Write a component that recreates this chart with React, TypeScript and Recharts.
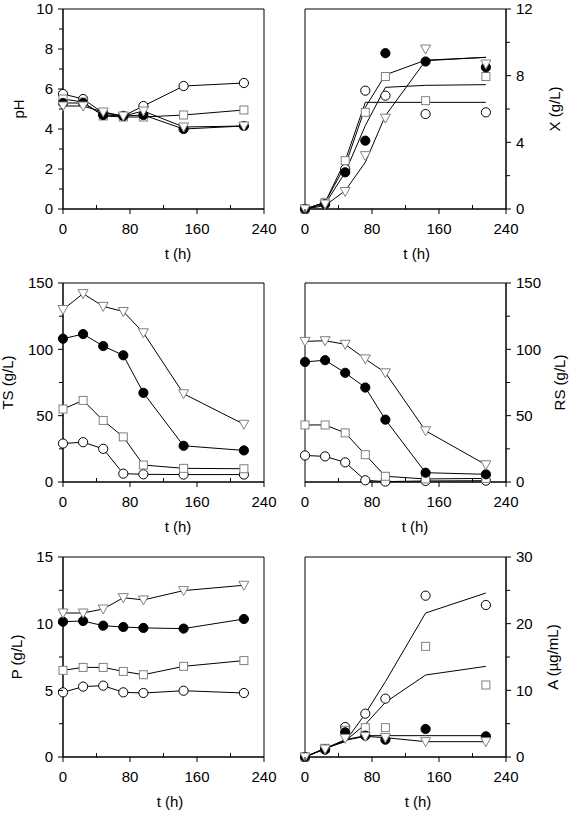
import { ComposedChart, Line, XAxis, YAxis, ReferenceArea } from 'recharts';

// sampling times (h)
const T = [0, 24, 48, 72, 96, 144, 216];
const T_TICKS = [0, 40, 80, 120, 160, 200, 240];

// pH
const phCircle = [5.75, 5.5, 4.8, 4.65, 5.15, 6.15, 6.3];
const phSquare = [5.5, 5.35, 4.65, 4.6, 4.6, 4.7, 4.95];
const phFilled = [5.3, 5.3, 4.7, 4.65, 4.7, 4.0, 4.15];
const phTriangle = [5.15, 5.15, 4.85, 4.65, 4.9, 4.1, 4.15];
const phTicks = [0, 1, 2, 3, 4, 5, 6, 7, 8, 9, 10];

// X (g/L), points and model curves
const xCircle = [0, 0.3, 2.4, 7.1, 6.8, 5.7, 5.8];
const xSquare = [0, 0.4, 2.9, 5.8, 7.95, 6.5, 7.95];
const xFilled = [0, 0.3, 2.2, 4.1, 9.35, 8.85, 8.5];
const xTriangle = [0, 0.3, 1.05, 3.2, 5.45, 9.6, 8.7];
const xFitA = [0, 0.4, 2.9, 6.4, 6.4, 6.4, 6.4];
const xFitB = [0, 0.3, 2.2, 5.0, 7.3, 7.42, 7.46];
const xFitC = [0, 0.4, 2.6, 6.1, 8.05, 8.93, 9.1];
const xFitD = [0, 0.2, 1.1, 2.8, 5.6, 8.9, 9.1];
const xTicks = [0, 2, 4, 6, 8, 10, 12];

// TS (g/L)
const tsCircle = [29, 30, 25, 6.3, 5.8, 5.6, 5.6];
const tsSquare = [55, 61.5, 46.4, 34, 12.8, 10.3, 10];
const tsFilled = [108, 111.5, 102.5, 95.5, 67.2, 27.3, 23.8];
const tsTriangle = [130, 142, 132.4, 128.5, 112.5, 66.5, 43.5];
const sugarTicks = [0, 25, 50, 75, 100, 125, 150];

// RS (g/L)
const rsCircle = [20, 19.3, 14.8, 1.3, 0.3, 0.8, 1.0];
const rsSquare = [43, 43, 37, 20.6, 4.3, 2.3, 2.7];
const rsFilled = [90.5, 91.8, 82.3, 71.2, 47, 7, 5.8];
const rsTriangle = [106, 106.5, 103.8, 92.8, 82.3, 38.6, 13];

// P (g/L)
const pCircle = [4.85, 5.28, 5.35, 4.85, 4.8, 4.97, 4.8];
const pSquare = [6.5, 6.72, 6.72, 6.42, 6.17, 6.8, 7.23];
const pFilled = [10.15, 10.2, 9.85, 9.75, 9.68, 9.63, 10.35];
const pTriangle = [10.8, 10.8, 11.1, 11.95, 11.78, 12.48, 12.88];
const pTicks = [0, 2.5, 5, 7.5, 10, 12.5, 15];

// A (µg/mL), points and model curves
const aCircle = [0, 1.2, 4.5, 6.5, 8.75, 24.2, 22.8];
const aSquare = [0, 1.3, 4.0, 4.4, 4.4, 16.6, 10.8];
const aFilled = [0, 1.1, 3.7, 3.2, 2.6, 4.2, 3.1];
const aTriangle = [0, 1.2, 2.8, 3.1, 2.9, 2.3, 2.3];
const aFitA = [0, 1.3, 2.3, 6.5, 11.3, 21.6, 24.6];
const aFitB = [0, 1.3, 2.4, 4.9, 8.2, 12.3, 13.6];
const aFitC = [0, 1.3, 2.6, 3.2, 3.2, 3.2, 3.2];
const aFitD = [0, 1.2, 2.5, 3.1, 2.9, 2.3, 2.3];
const aTicks = [0, 5, 10, 15, 20, 25, 30];

const FONT = "'Liberation Sans', Arial, sans-serif";
const GREY = '#808080';

type Kind = 'circle' | 'square' | 'filled' | 'triangle';
interface Mark { kind: Kind; values: number[] }

function renderMarker(kind: Kind) {
  return (p: any) => {
    const { cx, cy, index } = p;
    const k = `${kind}-${index}`;
    if (cx == null || cy == null) return <g key={k} />;
    if (kind === 'circle') return <circle key={k} cx={cx} cy={cy} r={4.6} fill="#fff" stroke="#000" strokeWidth={1} />;
    if (kind === 'filled') return <circle key={k} cx={cx} cy={cy} r={4.6} fill="#000" stroke="#000" strokeWidth={1} />;
    if (kind === 'square') return <rect key={k} x={cx - 4} y={cy - 4} width={8} height={8} fill="#fff" stroke={GREY} strokeWidth={1} />;
    return <polygon key={k} points={`${cx - 5},${cy - 4} ${cx + 5},${cy - 4} ${cx},${cy + 5}`} fill="#fff" stroke={GREY} strokeWidth={1} />;
  };
}

const XTick = (p: any) => {
  const { x, y, payload } = p;
  const v = payload.value;
  const major = v % 80 === 0;
  return (
    <g>
      <line x1={x} x2={x} y1={y} y2={major ? y + 5 : y - 4} stroke="#000" />
      {major && (
        <text x={x} y={y + 20} dy="0.35em" textAnchor="middle" fontSize={15} fontFamily={FONT} fill="#000">{v}</text>
      )}
    </g>
  );
};

const makeYTick = (side: 'left' | 'right', step: number) => (p: any) => {
  const { x, y, payload } = p;
  const v = payload.value;
  const major = Math.abs(v / step - Math.round(v / step)) < 1e-6;
  const dir = side === 'left' ? -1 : 1;
  return (
    <g>
      <line x1={x} x2={x + dir * (major ? 5 : 4)} y1={y} y2={y} stroke="#000" />
      {major && (
        <text x={x + dir * 10} y={y} dy="0.35em" textAnchor={side === 'left' ? 'end' : 'start'} fontSize={15} fontFamily={FONT} fill="#000">{v}</text>
      )}
    </g>
  );
};

interface PanelProps {
  col: 0 | 1;
  plotTop: number;
  plotH: number;
  yMax: number;
  yTicks: number[];
  yStep: number;
  yLabel: string;
  yLabelX: number;
  tLabelX: number;
  marks: Mark[];
  joined: boolean;
  fits?: number[][];
}

function Panel({ col, plotTop, plotH, yMax, yTicks, yStep, yLabel, yLabelX, tLabelX, marks, joined, fits = [] }: PanelProps) {
  const left = col === 0 ? 0 : 290;
  const width = col === 0 ? 286 : 282;
  const side = col === 0 ? 'left' : 'right';
  const height = 9 + plotH + 56;
  const margin = col === 0 ? { top: 9, right: 22, bottom: 0, left: 0 } : { top: 9, right: 0, bottom: 0, left: 15 };

  const rows = T.map((t, i) => {
    const row: Record<string, number> = { t };
    marks.forEach((m, j) => { row['m' + j] = m.values[i]; });
    fits.forEach((f, j) => { row['f' + j] = f[i]; });
    return row;
  });

  const lx = yLabelX - left;
  const ly = 9 + plotH / 2;
  const tx = tLabelX - left;
  const ty = 9 + plotH + 50;

  return (
    <div style={{ position: 'absolute', left, top: plotTop - 9 }}>
      <ComposedChart width={width} height={height} data={rows} margin={margin}>
        <XAxis
          dataKey="t"
          type="number"
          domain={[0, 240]}
          ticks={T_TICKS}
          interval={0}
          tickSize={0}
          tickMargin={0}
          tickLine={false}
          tick={XTick}
          axisLine={{ stroke: '#000' }}
          height={56}
          label={() => (
            <text x={tx} y={ty} textAnchor="middle" fontSize={15} fontFamily={FONT} fill="#000">t (h)</text>
          )}
        />
        <YAxis
          type="number"
          domain={[0, yMax]}
          ticks={yTicks}
          interval={0}
          orientation={side}
          width={col === 0 ? 63 : 66}
          tickSize={0}
          tickMargin={0}
          tickLine={false}
          tick={makeYTick(side, yStep)}
          axisLine={{ stroke: '#000' }}
          label={() => (
            <text x={lx} y={ly} dy="0.35em" transform={`rotate(-90 ${lx} ${ly})`} textAnchor="middle" fontSize={15} fontFamily={FONT} fill="#000">{yLabel}</text>
          )}
        />
        <ReferenceArea x1={0} x2={240} y1={0} y2={yMax} fill="none" stroke="#000" strokeWidth={1} />
        {marks.map((m, j) => (
          <Line
            key={'m' + j}
            type="linear"
            dataKey={'m' + j}
            stroke={joined ? '#000' : 'none'}
            strokeWidth={1}
            dot={renderMarker(m.kind)}
            activeDot={false}
            isAnimationActive={false}
          />
        ))}
        {fits.map((_, j) => (
          <Line
            key={'f' + j}
            type="linear"
            dataKey={'f' + j}
            stroke="#000"
            strokeWidth={1}
            dot={false}
            activeDot={false}
            isAnimationActive={false}
          />
        ))}
      </ComposedChart>
    </div>
  );
}

const set = (c: number[], s: number[], f: number[], v: number[]): Mark[] => [
  { kind: 'circle', values: c },
  { kind: 'square', values: s },
  { kind: 'filled', values: f },
  { kind: 'triangle', values: v },
];

export default function App() {
  return (
    <div style={{ position: 'absolute', left: 0, top: 0, width: 572, height: 814, background: '#fff' }}>
      <Panel col={0} plotTop={9} plotH={200} yMax={10} yTicks={phTicks} yStep={2} yLabel="pH" yLabelX={19.2} tLabelX={178}
        marks={set(phCircle, phSquare, phFilled, phTriangle)} joined />
      <Panel col={1} plotTop={9} plotH={200} yMax={12} yTicks={xTicks} yStep={4} yLabel="X (g/L)" yLabelX={555.2} tLabelX={416.7}
        marks={set(xCircle, xSquare, xFilled, xTriangle)} joined={false} fits={[xFitA, xFitB, xFitC, xFitD]} />
      <Panel col={0} plotTop={283} plotH={199} yMax={150} yTicks={sugarTicks} yStep={50} yLabel="TS (g/L)" yLabelX={8.2} tLabelX={178}
        marks={set(tsCircle, tsSquare, tsFilled, tsTriangle)} joined />
      <Panel col={1} plotTop={283} plotH={199} yMax={150} yTicks={sugarTicks} yStep={50} yLabel="RS (g/L)" yLabelX={560.2} tLabelX={415}
        marks={set(rsCircle, rsSquare, rsFilled, rsTriangle)} joined />
      <Panel col={0} plotTop={557} plotH={200} yMax={15} yTicks={pTicks} yStep={5} yLabel="P (g/L)" yLabelX={16.8} tLabelX={170}
        marks={set(pCircle, pSquare, pFilled, pTriangle)} joined />
      <Panel col={1} plotTop={557} plotH={200} yMax={30} yTicks={aTicks} yStep={10} yLabel="A (µg/mL)" yLabelX={553.2} tLabelX={418}
        marks={set(aCircle, aSquare, aFilled, aTriangle)} joined={false} fits={[aFitA, aFitB, aFitC, aFitD]} />
    </div>
  );
}
